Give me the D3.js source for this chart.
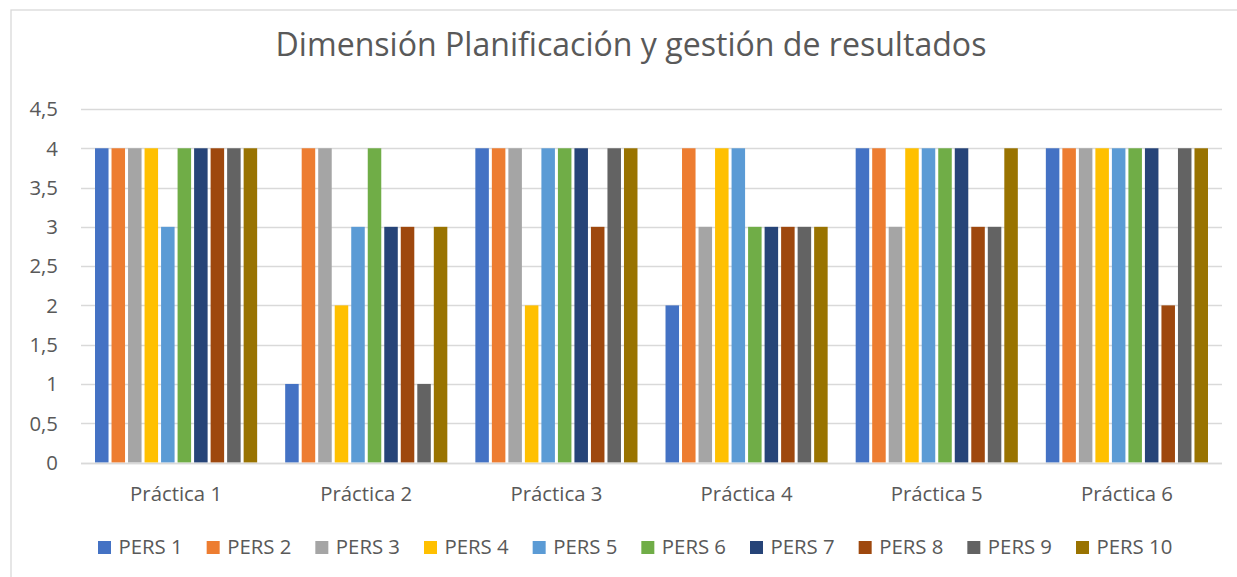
<!DOCTYPE html>
<html><head><meta charset="utf-8">
<script src="https://cdn.jsdelivr.net/npm/d3@7"></script>
<style>html,body{margin:0;padding:0;background:#fff;} svg{display:block;}</style>
</head><body>
<svg id="c" width="1237" height="577"></svg>
<script>
const title = "Dimensión Planificación y gestión de resultados";
const categories = ["Práctica 1","Práctica 2","Práctica 3","Práctica 4","Práctica 5","Práctica 6"];
const seriesNames = ["PERS 1","PERS 2","PERS 3","PERS 4","PERS 5","PERS 6","PERS 7","PERS 8","PERS 9","PERS 10"];
const colors = ["#4472C4","#ED7D31","#A5A5A5","#FFC000","#5B9BD5","#70AD47","#264478","#9E480E","#636363","#997300"];
// values[series][category]
const pers1  = [4,1,4,2,4,4];
const pers2  = [4,4,4,4,4,4];
const pers3  = [4,4,4,3,3,4];
const pers4  = [4,2,2,4,4,4];
const pers5  = [3,3,4,4,4,4];
const pers6  = [4,4,4,3,4,4];
const pers7  = [4,3,4,3,4,4];
const pers8  = [4,3,3,3,3,2];
const pers9  = [4,1,4,3,3,4];
const pers10 = [4,3,4,3,4,4];
const yTicks = [0,0.5,1,1.5,2,2.5,3,3.5,4,4.5];
const yTickLabels = ["0","0,5","1","1,5","2","2,5","3","3,5","4","4,5"];

const seriesValues = [pers1,pers2,pers3,pers4,pers5,pers6,pers7,pers8,pers9,pers10];
const FONT = "'Open Sans', 'Noto Sans', sans-serif";
const TXT = "#595959";
const GRID = "#D9D9D9";

const svg = d3.select("#c");
svg.append("rect").attr("x",11).attr("y",10).attr("width",1300).attr("height",700)
  .attr("fill","#fff").attr("stroke",GRID).attr("stroke-width",1.3);

function fit(sel, target){
  const w = sel.node().getComputedTextLength();
  const fs = parseFloat(sel.attr("font-size"));
  const nf = fs*target/w;
  sel.attr("font-size", nf);
  return nf;
}

// measure label font size
const probe = svg.append("text").attr("font-family",FONT).attr("font-size",20).text("Práctica 1");
const lblSize = fit(probe, 92);
probe.remove();

const x0 = d3.scaleBand().domain(categories).range([81,1222]).paddingInner(25/190).paddingOuter(12.5/190);
const x1 = d3.scaleBand().domain(seriesNames).range([0, x0.bandwidth()]);
const y = d3.scaleLinear().domain([0,4.5]).range([462.5,109]);

// gridlines
svg.append("g").selectAll("line").data(yTicks).join("line")
  .attr("x1",81).attr("x2",1222)
  .attr("y1",d=>Math.round(y(d))+0.5).attr("y2",d=>Math.round(y(d))+0.5)
  .attr("stroke",GRID).attr("stroke-width",1.3);

// y labels
svg.append("g").selectAll("text").data(yTicks).join("text")
  .attr("x",58).attr("y",d=>y(d)).attr("dy","0.36em")
  .attr("text-anchor","end").attr("font-family",FONT).attr("font-size",lblSize)
  .attr("fill",TXT).text((d,i)=>yTickLabels[i]);

// bars
const gap = 3;
const groups = svg.append("g").selectAll("g").data(categories).join("g")
  .attr("transform",c=>`translate(${x0(c)},0)`);
groups.selectAll("rect").data((c,ci)=>seriesNames.map((s,si)=>({s,si,v:seriesValues[si][ci]})))
  .join("rect")
  .attr("x",d=>x1(d.s)+gap/2).attr("width",x1.bandwidth()-gap)
  .attr("y",d=>y(d.v)).attr("height",d=>y(0)-y(d.v))
  .attr("fill",d=>colors[d.si]);

// bottom axis line
svg.append("line").attr("x1",81).attr("x2",1222).attr("y1",Math.round(y(0))+0.5).attr("y2",Math.round(y(0))+0.5)
  .attr("stroke",GRID).attr("stroke-width",1.3);

// category labels
svg.append("g").selectAll("text").data(categories).join("text")
  .attr("x",c=>x0(c)+x0.bandwidth()/2).attr("y",501)
  .attr("text-anchor","middle").attr("font-family",FONT).attr("font-size",lblSize)
  .attr("fill",TXT).text(c=>c);

// title
const t = svg.append("text").attr("x",631).attr("y",56).attr("text-anchor","middle")
  .attr("font-family",FONT).attr("font-size",32).attr("fill",TXT).text(title);
fit(t, 711);

// legend
const lx = d3.scaleLinear().domain([0,9]).range([98,1076]);
const leg = svg.append("g").selectAll("g").data(seriesNames).join("g")
  .attr("transform",(d,i)=>`translate(${lx(i)},0)`);
leg.append("rect").attr("x",0).attr("y",541).attr("width",13).attr("height",13).attr("fill",(d,i)=>colors[i]);
leg.append("text").attr("x",20.5).attr("y",553.5).attr("font-family",FONT).attr("font-size",lblSize)
  .attr("fill",TXT).text(d=>d);
</script>
</body></html>
